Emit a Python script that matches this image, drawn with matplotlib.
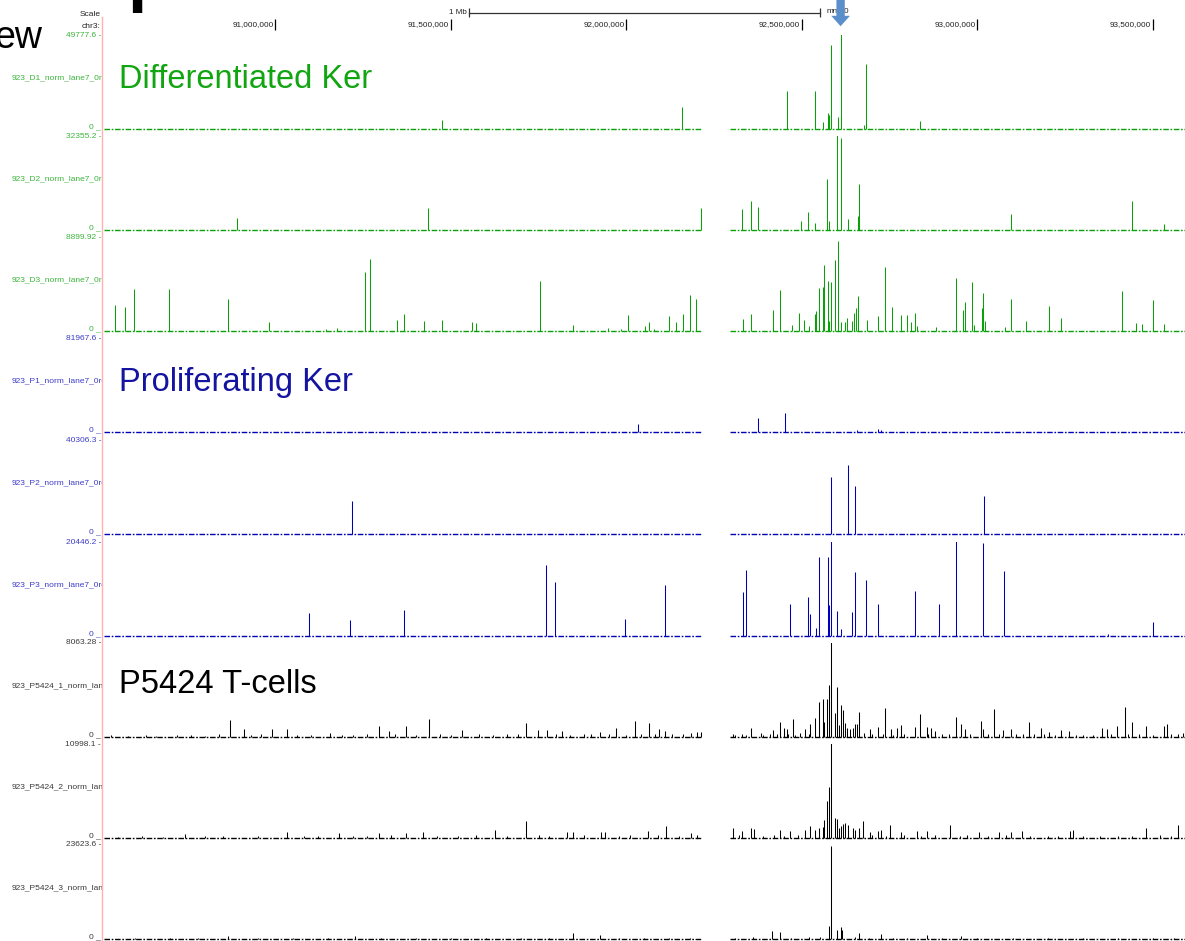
import matplotlib.pyplot as plt

plt.rcParams['font.family'] = ['Liberation Sans', 'DejaVu Sans']
plt.rcParams['lines.scale_dashes'] = False

W, H = 1185, 941

# visible window on chr3 (Mb) and the stretches that have signal
x_min, x_max = 90.5114, 93.5912
covered = [(90.5114, 92.2151), (92.2949, 93.5912)]

tick_mb = [91.0, 91.5, 92.0, 92.5, 93.0, 93.5]
tick_lab = ['91,000,000', '91,500,000', '92,000,000', '92,500,000', '93,000,000', '93,500,000']
scale_bar = (91.551, 92.551)
marker_mb = 92.610

track_names = ['923_D1_norm_lane7_0rdered', '923_D2_norm_lane7_0rdered', '923_D3_norm_lane7_0rdered',
               '923_P1_norm_lane7_0rdered', '923_P2_norm_lane7_0rdered', '923_P3_norm_lane7_0rdered',
               '923_P5424_1_norm_lane7', '923_P5424_2_norm_lane7', '923_P5424_3_norm_lane7']
track_max = [49777.6, 32355.2, 8899.92, 81967.6, 40306.3, 20446.2, 8063.28, 10998.1, 23623.6]
track_max_lab = ['49777.6', '32355.2', '8899.92', '81967.6', '40306.3', '20446.2', '8063.28', '10998.1', '23623.6']

# ---- signal per track: position (Mb), value
d1_pos = [91.474, 92.158, 92.457, 92.537, 92.560, 92.574, 92.577, 92.583, 92.603, 92.611, 92.677, 92.682, 92.836]
d1_val = [4800, 11600, 20100, 20100, 3700, 8500, 7400, 44500, 6400, 52000, 2100, 34400, 4200]

d2_pos = [90.890, 91.434, 92.212, 92.329, 92.355, 92.375, 92.497, 92.517, 92.537, 92.571, 92.577,
          92.600, 92.611, 92.631, 92.660, 92.662, 93.095, 93.440, 93.531]
d2_val = [4100, 7600, 7600, 7200, 10000, 7900, 3100, 6200, 2400, 17500, 3100,
          34000, 31700, 3800, 4800, 15800, 5500, 10000, 2100]

d3_pos = [90.544, 90.571, 90.597, 90.697, 90.865, 90.981, 91.144, 91.175, 91.255, 91.269, 91.346,
          91.366, 91.424, 91.474, 91.559, 91.570, 91.755, 91.848, 91.947, 91.983, 92.003, 92.054,
          92.063, 92.077, 92.121, 92.140, 92.160, 92.181, 92.199,
          92.332, 92.355, 92.417, 92.437, 92.472, 92.491, 92.506, 92.520, 92.537, 92.540, 92.548,
          92.560, 92.563, 92.574, 92.577, 92.583, 92.594, 92.603, 92.611, 92.623, 92.628, 92.642,
          92.648, 92.654, 92.660, 92.685, 92.717, 92.736, 92.756, 92.782, 92.799, 92.811, 92.822,
          92.828, 92.882, 92.939, 92.959, 92.964, 92.984, 92.990, 93.013, 93.016, 93.021, 93.078,
          93.095, 93.138, 93.204, 93.238, 93.412, 93.452, 93.469, 93.500, 93.531]
d3_val = [2460, 2270, 3980, 3980, 3030, 850, 190, 280, 5590, 6820, 1040,
          1610, 950, 1040, 850, 760, 4730, 570, 280, 190, 1520, 470,
          850, 190, 1420, 850, 1610, 3410, 3030,
          1140, 1610, 1990, 3880, 570, 1700, 1040, 470, 1610, 1890, 4070,
          4170, 6250, 4730, 950, 4640, 6720, 8520, 850, 850, 1230, 950,
          1700, 2180, 3310, 1040, 1420, 6060, 2270, 1520, 1520, 850, 1700,
          470, 380, 5020, 1990, 2750, 4640, 570, 2180, 3600, 950, 380,
          3030, 950, 2370, 1230, 3790, 760, 660, 2940, 660]

p1_pos = [92.033, 92.375, 92.452, 92.657, 92.717, 92.725]
p1_val = [7000, 12200, 16600, 1700, 2600, 1700]

p2_pos = [91.218, 92.583, 92.631, 92.651, 93.019]
p2_val = [14200, 24500, 29600, 20600, 16300]

p3_pos = [91.095, 91.212, 91.365, 91.771, 91.796, 91.996, 92.109,
          92.332, 92.340, 92.466, 92.517, 92.523, 92.540, 92.548, 92.574, 92.577, 92.583, 92.600,
          92.611, 92.642, 92.651, 92.682, 92.717, 92.822, 92.890, 92.939, 93.016, 93.075, 93.372, 93.500]
p3_val = [5000, 3480, 5650, 15400, 11700, 3700, 11100,
          9600, 14400, 7000, 8500, 4800, 1700, 17200, 17200, 6700, 21000, 5400,
          1500, 5200, 13900, 12200, 7000, 9800, 7000, 21000, 20200, 14100, 430, 3000]

t1_pos = [90.53, 90.58, 90.63, 90.66, 90.72, 90.76, 90.80, 90.84, 90.869, 90.909, 90.93, 90.96,
          90.990, 91.034, 91.06, 91.10, 91.154, 91.19, 91.22, 91.26, 91.294, 91.322, 91.34, 91.371,
          91.40, 91.437, 91.47, 91.50, 91.531, 91.58, 91.62, 91.66, 91.69, 91.715, 91.747, 91.773,
          91.80, 91.815, 91.84, 91.88, 91.90, 91.925, 91.95, 91.970, 92.00, 92.023, 92.04, 92.065,
          92.08, 92.093, 92.110, 92.13, 92.16, 92.185, 92.201,
          92.212, 92.303, 92.31, 92.329, 92.34, 92.355, 92.383, 92.39, 92.41, 92.417, 92.43, 92.437,
          92.449, 92.457, 92.46, 92.474, 92.48, 92.494, 92.509, 92.52, 92.523, 92.537, 92.548,
          92.560, 92.563, 92.571, 92.577, 92.583, 92.594, 92.600, 92.605, 92.611, 92.617, 92.623,
          92.628, 92.637, 92.645, 92.651, 92.657, 92.662, 92.677, 92.694, 92.70, 92.717, 92.73,
          92.736, 92.754, 92.76, 92.771, 92.782, 92.79, 92.822, 92.836, 92.856, 92.86, 92.868,
          92.879, 92.90, 92.92, 92.939, 92.953, 92.964, 92.98, 93.010, 93.016, 93.03, 93.047,
          93.06, 93.073, 93.095, 93.11, 93.13, 93.147, 93.16, 93.181, 93.19, 93.204, 93.22,
          93.238, 93.261, 93.28, 93.30, 93.33, 93.355, 93.369, 93.38, 93.397, 93.420, 93.43,
          93.440, 93.46, 93.480, 93.50, 93.531, 93.540, 93.55, 93.57, 93.585]
t1_val = [150, 120, 200, 100, 150, 180, 120, 220, 1460, 690, 150, 250,
          690, 690, 180, 160, 340, 200, 150, 300, 940, 510, 250, 940,
          200, 1540, 280, 200, 600, 250, 180, 300, 220, 1200, 600, 600,
          250, 510, 200, 300, 250, 430, 280, 770, 200, 1370, 300, 1200,
          250, 690, 510, 280, 220, 340, 430,
          430, 260, 150, 260, 200, 770, 340, 180, 220, 600, 250, 1290,
          770, 690, 300, 1540, 200, 340, 690, 300, 1120, 1630, 3000,
          3260, 1290, 3260, 4460, 8500, 2060, 4290, 1030, 2750, 2320, 1200,
          770, 690, 770, 1120, 1120, 2150, 340, 690, 300, 860, 250,
          2490, 690, 200, 770, 1030, 300, 860, 1970, 860, 250, 770,
          510, 300, 250, 1720, 1120, 690, 300, 1370, 690, 250, 2400,
          300, 600, 690, 250, 300, 1290, 250, 770, 300, 430, 200,
          600, 510, 150, 200, 150, 770, 690, 250, 940, 2570, 300,
          1290, 250, 940, 200, 940, 1120, 300, 250, 340]

t2_pos = [90.55, 90.62, 90.68, 90.742, 90.80, 90.85, 90.95, 91.034, 91.08, 91.12, 91.181, 91.22,
          91.26, 91.294, 91.33, 91.371, 91.419, 91.46, 91.52, 91.57, 91.624, 91.66, 91.715, 91.75,
          91.78, 91.830, 91.847, 91.88, 91.926, 91.940, 91.98, 92.01, 92.062, 92.09, 92.113, 92.15,
          92.185, 92.20,
          92.303, 92.32, 92.329, 92.355, 92.363, 92.39, 92.42, 92.437, 92.45, 92.466, 92.49, 92.509,
          92.523, 92.537, 92.548, 92.560, 92.563, 92.571, 92.577, 92.583, 92.594, 92.600, 92.605,
          92.611, 92.617, 92.623, 92.631, 92.645, 92.651, 92.662, 92.674, 92.694, 92.70, 92.717,
          92.725, 92.74, 92.751, 92.782, 92.79, 92.828, 92.84, 92.856, 92.88, 92.922, 92.95, 92.97,
          93.004, 93.03, 93.061, 93.08, 93.095, 93.127, 93.15, 93.20, 93.23, 93.264, 93.272, 93.30,
          93.35, 93.40, 93.44, 93.480, 93.52, 93.55, 93.571]
t2_val = [150, 200, 150, 470, 200, 250, 200, 700, 250, 200, 590, 250,
          200, 590, 300, 590, 700, 250, 200, 300, 940, 250, 2000, 300,
          250, 700, 700, 300, 700, 700, 250, 300, 820, 300, 1400, 250,
          590, 300,
          1170, 300, 820, 1170, 1050, 250, 300, 940, 250, 820, 300, 940,
          1400, 940, 1170, 1290, 2110, 4330, 5970, 11500, 2340, 2220, 1170,
          1400, 1640, 1760, 1520, 1170, 940, 1170, 1990, 700, 300, 820,
          940, 250, 1520, 700, 300, 820, 250, 820, 300, 1520, 250, 300,
          700, 250, 700, 300, 700, 820, 250, 200, 250, 820, 940, 200,
          250, 200, 250, 1170, 300, 250, 1520]

t3_pos = [90.60, 90.70, 90.78, 90.865, 90.95, 91.05, 91.15, 91.226, 91.30, 91.40, 91.50, 91.60,
          91.70, 91.78, 91.848, 91.925, 91.98, 92.05, 92.12, 92.18,
          92.31, 92.36, 92.415, 92.437, 92.47, 92.52, 92.55, 92.577, 92.583, 92.600, 92.611,
          92.614, 92.65, 92.662, 92.69, 92.725, 92.76, 92.80, 92.856, 92.90, 92.953, 93.00,
          93.10, 93.20, 93.30, 93.40, 93.50, 93.56]
t3_val = [300, 250, 300, 750, 250, 300, 250, 750, 300, 250, 300, 250,
          300, 250, 1500, 1000, 300, 250, 300, 250,
          300, 400, 2000, 1760, 300, 400, 500, 3260, 23300, 2260, 3010,
          2260, 400, 1500, 300, 1260, 300, 250, 1000, 300, 750, 250,
          300, 250, 300, 250, 300, 250]

track_pos = [d1_pos, d2_pos, d3_pos, p1_pos, p2_pos, p3_pos, t1_pos, t2_pos, t3_pos]
track_val = [d1_val, d2_val, d3_val, p1_val, p2_val, p3_val, t1_val, t2_val, t3_val]

green, blue, black = '#0aa00a', '#0000b4', '#000000'
track_col = [green] * 3 + [blue] * 3 + [black] * 3
label_col = ['#3cb43c'] * 3 + ['#3c3cc8'] * 3 + ['#3a3a3a'] * 3
track_top = [35, 136, 237, 338, 440, 542, 643, 744, 845]

fig = plt.figure(figsize=(W / 100, H / 100), dpi=100)
fig.patch.set_facecolor('white')

# tracks
for i in range(9):
    top = track_top[i]
    mx = track_max[i]
    ax = fig.add_axes([104 / W, 1 - (top + 96) / H, 1081 / W, 96 / H])
    ax.vlines(track_pos[i], 0, track_val[i], colors=track_col[i], lw=0.75)
    for a, b in covered:
        ax.hlines(0, a, b, colors=track_col[i], lw=1.0, linestyles=(0, (4, 1.2, 1.2, 1.2)))
    ax.set_xlim(x_min, x_max)
    ax.set_ylim(-mx * 2 / 94, mx)
    ax.axis('off')

# header: coordinates, scale bar, marker arrow
axh = fig.add_axes([104 / W, 1 - 32 / H, 1081 / W, 32 / H])
axh.set_xlim(x_min, x_max)
axh.set_ylim(32, 0)
axh.axis('off')
axh.vlines(tick_mb, 19, 30, colors='black', lw=0.9)
for t, lab in zip(tick_mb, tick_lab):
    axh.annotate(lab, (t, 25), xytext=(-2, 0), textcoords='offset pixels',
                 ha='right', va='center', fontsize=5.9, color='#222222')
axh.plot(scale_bar, [12.5, 12.5], color='#333333', lw=0.9)
axh.vlines(scale_bar, 8, 17, colors='#333333', lw=0.9)
axh.annotate('1 Mb', (scale_bar[0], 12.5), xytext=(-2, 0), textcoords='offset pixels',
             ha='right', va='center', fontsize=5.9, color='#222222')
axh.annotate('mm10', (scale_bar[1], 11.5), xytext=(7, 0), textcoords='offset pixels',
             ha='left', va='center', fontsize=5.9, color='#222222')
axh.annotate('', xy=(marker_mb, 29), xytext=(marker_mb, -4),
             arrowprops=dict(arrowstyle='simple,head_length=0.75,head_width=1.35,tail_width=0.6',
                             mutation_scale=10, color='#5b8fcc', lw=0),
             annotation_clip=False)

# left label column, clipped at the pink line
axl = fig.add_axes([0, 0, 102 / W, 1])
axl.set_xlim(0, 102)
axl.set_ylim(H, 0)
axl.axis('off')
for i in range(9):
    top = track_top[i]
    axl.text(101, top, track_max_lab[i] + ' -', ha='right', va='center',
             fontsize=6.0, color=label_col[i], clip_on=True)
    axl.text(12, top + 43, track_names[i], ha='left', va='center',
             fontsize=6.0, color=label_col[i], clip_on=True)
    axl.text(101, top + 95, '0 _', ha='right', va='bottom',
             fontsize=6.0, color=label_col[i], clip_on=True)
axl.text(101, 14, 'Scale', ha='right', va='center', fontsize=6.0, color='#222222')
axl.text(101, 26, 'chr3:', ha='right', va='center', fontsize=6.0, color='#222222')

# overlay in pixel coordinates
axp = fig.add_axes([0, 0, 1, 1])
axp.set_xlim(0, W)
axp.set_ylim(H, 0)
axp.axis('off')
axp.axvline(102, ymin=0, ymax=1 - 17 / H, color='#ffb0b0', lw=1.0)
axp.text(42, 48, 'ew', ha='right', va='baseline', fontsize=27, color='black')
axp.text(127, -1, 'p', ha='left', va='baseline', fontsize=50, fontweight='bold', color='black')
axp.text(119, 88, 'Differentiated Ker', ha='left', va='baseline', fontsize=23.5, color='#12a512')
axp.text(119, 391, 'Proliferating Ker', ha='left', va='baseline', fontsize=23.5, color='#1414a0')
axp.text(119, 693, 'P5424 T-cells', ha='left', va='baseline', fontsize=23.5, color='black')

fig.savefig('out.png', dpi=100)
